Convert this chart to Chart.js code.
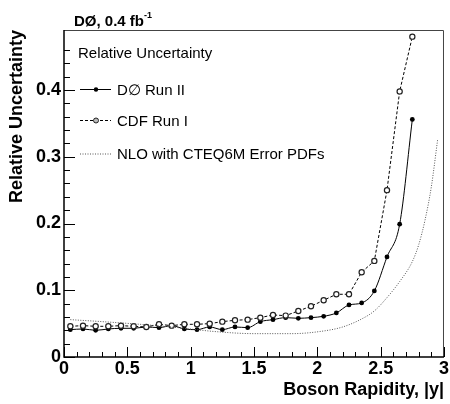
<!DOCTYPE html>
<html>
<head>
<meta charset="utf-8">
<script src="https://cdn.jsdelivr.net/npm/chart.js@4.4.1/dist/chart.umd.min.js"></script>
<style>
  html, body { margin: 0; padding: 0; background: #fff; }
  #wrap { width: 450px; height: 404px; position: relative; }
</style>
</head>
<body>
<div id="wrap"><canvas id="rapChart"></canvas></div>
<script>
// Boson rapidity bin centres (same for both measurements)
const rapidity = [0.05, 0.15, 0.25, 0.35, 0.45, 0.55, 0.65, 0.75, 0.85, 0.95,
                  1.05, 1.15, 1.25, 1.35, 1.45, 1.55, 1.65, 1.75, 1.85, 1.95,
                  2.05, 2.15, 2.25, 2.35, 2.45, 2.55, 2.65, 2.75];
// DØ Run II relative uncertainty
const d0Run2 = [0.041, 0.042, 0.040, 0.042, 0.043, 0.043, 0.045, 0.044, 0.047, 0.042,
                0.041, 0.045, 0.041, 0.045, 0.044, 0.053, 0.056, 0.059, 0.058, 0.059,
                0.061, 0.066, 0.078, 0.081, 0.099, 0.150, 0.199, 0.356];
// CDF Run I relative uncertainty
const cdfRun1 = [0.046, 0.047, 0.046, 0.046, 0.047, 0.046, 0.045, 0.049, 0.047, 0.049,
                 0.049, 0.050, 0.053, 0.055, 0.056, 0.059, 0.063, 0.062, 0.069, 0.076,
                 0.085, 0.094, 0.094, 0.127, 0.144, 0.250, 0.398, 0.480];
// NLO CTEQ6M error PDF band (smooth curve)
const nloX = [0.05, 0.3, 0.6, 0.9, 1.2, 1.5, 1.8, 2.05, 2.2, 2.35, 2.45, 2.55, 2.65, 2.75, 2.8, 2.85, 2.9, 2.95];
const nloY = [0.056, 0.053, 0.049, 0.044, 0.038, 0.035, 0.035, 0.039, 0.045, 0.057, 0.069, 0.089, 0.113, 0.143, 0.168, 0.205, 0.255, 0.326];

const xTickLabels = ['0', '0.5', '1', '1.5', '2', '2.5', '3'];
const yTickLabels = ['0', '0.1', '0.2', '0.3', '0.4'];

const FONT = '"Liberation Sans", Arial, Helvetica, sans-serif';

const toPts = (xs, ys) => xs.map((x, i) => ({ x: x, y: ys[i] }));

// рамка, тики внутрь, заголовок и легенда в стиле ROOT
const rootStylePlugin = {
  id: 'rootStyle',
  afterDraw: (chart) => {
    const ctx = chart.ctx;
    const a = chart.chartArea;
    const xs = chart.scales.x;
    const ys = chart.scales.y;
    ctx.save();

    // frame
    ctx.strokeStyle = '#444';
    ctx.lineWidth = 1;
    ctx.beginPath();
    ctx.moveTo(a.left, a.top + 0.5);
    ctx.lineTo(a.right - 0.5, a.top + 0.5);
    ctx.lineTo(a.right - 0.5, a.bottom);
    ctx.stroke();
    ctx.strokeStyle = '#000';
    ctx.lineWidth = 1.5;
    ctx.beginPath();
    ctx.moveTo(a.left, a.top);
    ctx.lineTo(a.left, a.bottom);
    ctx.lineTo(a.right, a.bottom);
    ctx.stroke();

    // inward ticks
    ctx.lineWidth = 1;
    ctx.beginPath();
    xs.ticks.forEach(t => {
      const k = Math.round(t.value * 10);
      if (Math.abs(t.value * 10 - k) > 1e-6) return;
      const px = Math.round(xs.getPixelForValue(t.value)) + 0.5;
      const len = (k % 5 === 0) ? 10 : 5;
      ctx.moveTo(px, a.bottom);
      ctx.lineTo(px, a.bottom - len);
    });
    ys.ticks.forEach(t => {
      const k = Math.round(t.value * 50);
      if (Math.abs(t.value * 50 - k) > 1e-6) return;
      const py = Math.round(ys.getPixelForValue(t.value)) + 0.5;
      const len = (k % 5 === 0) ? 11 : 6;
      ctx.moveTo(a.left, py);
      ctx.lineTo(a.left + len, py);
    });
    ctx.stroke();

    // title  DØ, 0.4 fb^-1
    ctx.fillStyle = '#000';
    ctx.textAlign = 'left';
    ctx.textBaseline = 'alphabetic';
    ctx.font = 'bold 15px ' + FONT;
    const main = 'DØ, 0.4 fb';
    ctx.fillText(main, 74, 26);
    const w = ctx.measureText(main).width;
    ctx.font = 'bold 9px ' + FONT;
    ctx.fillText('-1', 74 + w, 18);

    // legend
    ctx.font = '15px ' + FONT;
    ctx.fillText('Relative Uncertainty', 78, 58);
    const rows = [
      { y: 89, label: 'D\u2205 Run II', dash: [], marker: 'filled' },
      { y: 120, label: 'CDF Run I', dash: [3, 2], marker: 'open' },
      { y: 153.5, label: 'NLO with CTEQ6M Error PDFs', dash: [1, 1.5], marker: null }
    ];
    rows.forEach(r => {
      ctx.save();
      ctx.strokeStyle = r.marker ? '#000' : '#555';
      ctx.lineWidth = 1;
      ctx.setLineDash(r.dash);
      ctx.beginPath();
      ctx.moveTo(80, r.y + 0.5);
      ctx.lineTo(111, r.y + 0.5);
      ctx.stroke();
      ctx.setLineDash([]);
      if (r.marker === 'filled') {
        ctx.fillStyle = '#000';
        ctx.beginPath();
        ctx.arc(96, r.y + 0.5, 2.2, 0, Math.PI * 2);
        ctx.fill();
      } else if (r.marker === 'open') {
        ctx.fillStyle = '#bbb';
        ctx.strokeStyle = '#222';
        ctx.beginPath();
        ctx.arc(96, r.y + 0.5, 2.5, 0, Math.PI * 2);
        ctx.fill();
        ctx.stroke();
      }
      ctx.restore();
      ctx.fillStyle = '#000';
      ctx.font = '15px ' + FONT;
      ctx.fillText(r.label, 117, r.y + 5.5);
    });

    ctx.restore();
  }
};

const chart = new Chart(document.getElementById('rapChart'), {
  type: 'line',
  data: {
    datasets: [
      {
        label: 'NLO with CTEQ6M Error PDFs',
        data: toPts(nloX, nloY),
        borderColor: '#555',
        borderWidth: 1,
        borderDash: [1, 1.5],
        pointRadius: 0,
        cubicInterpolationMode: 'monotone',
        fill: false
      },
      {
        label: 'CDF Run I',
        data: toPts(rapidity, cdfRun1),
        borderColor: '#000',
        borderWidth: 1,
        borderDash: [3, 2],
        pointRadius: 2.6,
        pointBorderWidth: 1.2,
        pointBackgroundColor: '#fff',
        pointBorderColor: '#222',
        tension: 0,
        fill: false
      },
      {
        label: 'D\u2205 Run II',
        data: toPts(rapidity, d0Run2),
        borderColor: '#000',
        borderWidth: 1,
        pointRadius: 2.4,
        pointBorderWidth: 0,
        pointBackgroundColor: '#000',
        cubicInterpolationMode: 'monotone',
        fill: false
      }
    ]
  },
  options: {
    responsive: true,
    maintainAspectRatio: false,
    animation: false,
    layout: { padding: { left: 0, right: 4, top: 30, bottom: 0 } },
    plugins: {
      legend: { display: false },
      tooltip: { enabled: false },
      rootStyle: {}
    },
    scales: {
      x: {
        type: 'linear',
        min: 0,
        max: 3,
        grid: { display: false, drawTicks: false },
        border: { display: false },
        ticks: {
          stepSize: 0.1,
          autoSkip: false,
          maxRotation: 0,
          padding: 1,
          color: '#000',
          font: { family: FONT, size: 18, weight: 'bold' },
          callback: (v) => {
            const k = Math.round(v * 2);
            if (Math.abs(v * 2 - k) > 1e-6) return '';
            return xTickLabels[k] ?? '';
          }
        },
        title: {
          display: true,
          text: 'Boson Rapidity, |y|',
          align: 'end',
          color: '#000',
          padding: { top: 0, bottom: 3 },
          font: { family: FONT, size: 18, weight: 'bold' }
        },
        afterFit: (s) => { s.height = 47; }
      },
      y: {
        min: 0,
        max: 0.49,
        grid: { display: false, drawTicks: false },
        border: { display: false },
        ticks: {
          stepSize: 0.02,
          autoSkip: false,
          padding: 3,
          color: '#000',
          font: { family: FONT, size: 18, weight: 'bold' },
          callback: (v) => {
            const k = Math.round(v * 10);
            if (Math.abs(v * 10 - k) > 1e-6) return '';
            return yTickLabels[k] ?? '';
          }
        },
        title: {
          display: true,
          text: 'Relative Uncertainty',
          align: 'end',
          color: '#000',
          padding: { top: 6, bottom: 0 },
          font: { family: FONT, size: 18, weight: 'bold' }
        },
        afterFit: (s) => { s.width = 64; }
      }
    }
  },
  plugins: [rootStylePlugin]
});
</script>
</body>
</html>
